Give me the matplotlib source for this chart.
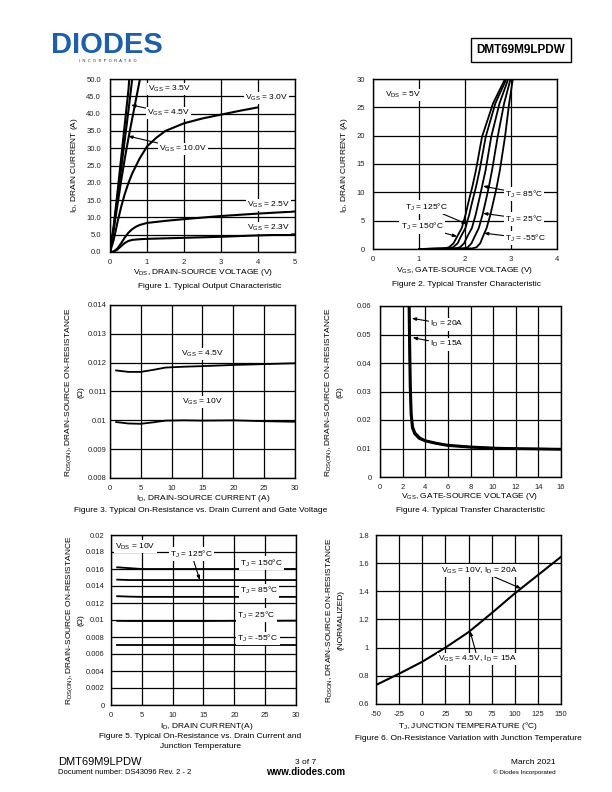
import numpy as np
import matplotlib
matplotlib.use("Agg")
import matplotlib.pyplot as plt

plt.rcParams["font.family"] = ["Liberation Sans", "DejaVu Sans"]
plt.rcParams["mathtext.default"] = "regular"
plt.rcParams["axes.unicode_minus"] = False

# ---- Figure 1 data: output characteristic ----
vds_10 = [0, 0.1, 0.2, 0.3, 0.4, 0.5, 0.52]
id_10 = [0, 7.5, 17, 27, 37, 47, 50]
vds_45 = [0, 0.1, 0.2, 0.3, 0.4, 0.5, 0.6]
id_45 = [0, 7, 15.5, 24, 32.5, 41, 50]
vds_35 = [0, 0.1, 0.2, 0.3, 0.4, 0.5, 0.6, 0.7, 0.81]
id_35 = [0, 6.5, 13.5, 20.5, 27, 33, 38.5, 44, 50]
vds_30 = [0, 0.1, 0.2, 0.3, 0.4, 0.5, 0.6, 0.8, 1.0, 1.25, 1.5, 2.0, 2.5, 3.0, 3.5, 4.0]
id_30 = [0, 3.5, 8.5, 13, 16.8, 20, 22.7, 27, 30.5, 33, 35, 37.2, 38.6, 39.7, 40.8, 41.8]
vds_25 = [0, 0.1, 0.2, 0.3, 0.4, 0.5, 0.6, 0.7, 0.8, 1.0, 1.5, 2.0, 3.0, 4.0, 5.0]
id_25 = [0, 0.1, 1.0, 2.5, 4.2, 5.6, 6.6, 7.3, 7.8, 8.4, 9.0, 9.5, 10.4, 11.1, 11.7]
vds_23 = [0, 0.1, 0.2, 0.3, 0.4, 0.5, 0.6, 0.8, 1.0, 2.0, 3.0, 4.0, 5.0]
id_23 = [0, 0.1, 0.7, 1.7, 2.6, 3.2, 3.5, 3.7, 3.8, 4.1, 4.4, 4.8, 5.1]

# ---- Figure 2 data: transfer characteristic (VDS = 5V) ----
id_levels = [0, 0.1, 0.3, 1, 2.2, 3.7, 6, 8.1, 11, 14, 19.8, 25.7, 30]
vgs_150 = [1.0, 1.55, 1.65, 1.75, 1.83, 1.93, 2.01, 2.07, 2.16, 2.24, 2.37, 2.61, 2.87]
vgs_125 = [1.0, 1.64, 1.74, 1.84, 1.91, 2.01, 2.09, 2.15, 2.24, 2.32, 2.45, 2.66, 2.90]
vgs_85 = [1.0, 1.79, 1.89, 1.98, 2.05, 2.15, 2.23, 2.29, 2.37, 2.45, 2.57, 2.75, 2.94]
vgs_25 = [1.0, 1.96, 2.06, 2.14, 2.21, 2.30, 2.38, 2.44, 2.52, 2.59, 2.71, 2.85, 2.99]
vgs_m55 = [1.0, 2.15, 2.25, 2.33, 2.39, 2.47, 2.55, 2.61, 2.69, 2.76, 2.87, 2.96, 3.04]

# ---- Figure 3 data: RDS(on) vs ID ----
id_f3 = [1, 3, 5, 7, 9, 12, 15, 20, 25, 30]
r_45 = [0.01173, 0.01168, 0.01168, 0.01175, 0.01183, 0.01186, 0.01188, 0.01192, 0.01195, 0.01198]
r_10 = [0.00994, 0.00989, 0.00988, 0.00993, 0.00999, 0.01, 0.00999, 0.01, 0.00997, 0.00995]

# ---- Figure 4 data: RDS(on) vs VGS ----
vgs_20a = [2.6, 2.65, 2.7, 2.78, 2.9, 3.1, 3.5, 4, 5, 6, 8, 10, 12, 14, 16]
r_20a = [0.06, 0.045, 0.032, 0.022, 0.0175, 0.0155, 0.0138, 0.0128, 0.0119, 0.0112, 0.0106, 0.0102, 0.0100, 0.0099, 0.0098]
vgs_15a = [2.55, 2.6, 2.65, 2.73, 2.85, 3.05, 3.45, 4, 5, 6, 8, 10, 12, 14, 16]
r_15a = [0.06, 0.045, 0.032, 0.022, 0.0172, 0.0152, 0.0135, 0.0126, 0.0117, 0.0110, 0.0104, 0.0101, 0.0099, 0.0098, 0.0097]

# ---- Figure 5 data: RDS(on) vs ID and TJ ----
id_f5 = [1, 3, 5, 10, 15, 20, 25, 30]
r_t150 = [0.0162, 0.0161, 0.0160, 0.0160, 0.0160, 0.0160, 0.0160, 0.0160]
r_t125 = [0.01475, 0.0147, 0.0147, 0.0147, 0.0147, 0.0147, 0.0147, 0.0147]
r_t85 = [0.0128, 0.01275, 0.01272, 0.01272, 0.01272, 0.01272, 0.01272, 0.01272]
r_t25 = [0.0099, 0.00988, 0.00988, 0.00988, 0.00988, 0.0099, 0.0099, 0.00992]
r_tm55 = [0.0071, 0.0071, 0.0071, 0.0071, 0.0071, 0.0071, 0.0071, 0.0071]

# ---- Figure 6 data: normalized RDS(on) vs TJ ----
tj = [-50, -25, 0, 25, 50, 75, 100, 125, 150]
r_norm = [0.735, 0.815, 0.9, 1.0, 1.11, 1.245, 1.385, 1.515, 1.645]

W, H = 612, 792
fig = plt.figure(figsize=(6.12, 7.92), dpi=100)


def add_ax(x0, y0, x1, y1):
    return fig.add_axes([x0 / W, 1 - y1 / H, (x1 - x0) / W, (y1 - y0) / H])


def ftext(x, y, s, **kw):
    kw.setdefault("fontsize", 6)
    kw.setdefault("ha", "center")
    kw.setdefault("va", "center")
    fig.text(x / W, 1 - y / H, s, **kw)


def style(ax, xlim, ylim, xt, yt, xl=None, yl=None, ypad=6):
    ax.set_xlim(*xlim)
    ax.set_ylim(*ylim)
    ax.set_xticks(xt)
    ax.set_yticks(yt)
    if xl is not None:
        ax.set_xticklabels(xl)
    if yl is not None:
        ax.set_yticklabels(yl)
    ax.grid(True, color="black", lw=0.9)
    ax.set_axisbelow(True)
    ax.tick_params(length=0, labelsize=5.5, labelcolor="#222222")
    ax.tick_params(axis="x", pad=5)
    ax.tick_params(axis="y", pad=ypad)
    for s in ax.spines.values():
        s.set_linewidth(1.0)


box = dict(boxstyle="square,pad=0.15", fc="white", ec="none")
arr = dict(arrowstyle="-|>,head_length=0.4,head_width=0.15", color="black", lw=0.8, shrinkA=0, shrinkB=0)


def label(ax, s, xy, xytext=None, ha="center"):
    if xytext is None:
        ax.text(xy[0], xy[1], s, fontsize=6, ha=ha, va="center", bbox=box, zorder=5)
    else:
        ax.annotate(s, xy=xy, xytext=xytext, fontsize=6, ha=ha, va="center",
                    bbox=box, arrowprops=arr, zorder=5)


# header
ftext(107, 45, "DIODES", fontsize=21, fontweight="bold", color="#1d5fa8")
ftext(108, 61, "I  N  C  O  R  P  O  R  A  T  E  D", fontsize=3, color="#333333")
ftext(521, 50, "DMT69M9LPDW", fontsize=8.5, fontweight="bold",
      bbox=dict(boxstyle="square,pad=0.5", fc="white", ec="black", lw=1))

# Figure 1
ax1 = add_ax(110, 79, 295, 252)
style(ax1, (0, 5), (0, 50), range(0, 6), np.arange(0, 51, 5),
      yl=["%.1f" % v for v in np.arange(0, 51, 5)], ypad=6.5)
for x, y in [(vds_10, id_10), (vds_45, id_45), (vds_35, id_35), (vds_30, id_30), (vds_25, id_25), (vds_23, id_23)]:
    ax1.plot(x, y, color="black", lw=1.5)
label(ax1, "V$_{GS}$ = 3.5V", (1.03, 47.1), ha="left")
label(ax1, "V$_{GS}$ = 4.5V", (0.57, 42.5), (1.0, 40.2), ha="left")
label(ax1, "V$_{GS}$ = 10.0V", (0.49, 33.5), (1.32, 29.8), ha="left")
label(ax1, "V$_{GS}$ = 3.0V", (3.65, 44.5), ha="left")
label(ax1, "V$_{GS}$ = 2.5V", (3.7, 13.6), ha="left")
label(ax1, "V$_{GS}$ = 2.3V", (3.7, 6.9), ha="left")
ftext(203, 272, "V$_{DS}$, DRAIN-SOURCE VOLTAGE (V)")
ftext(75, 165, "I$_{D}$, DRAIN CURRENT (A)", rotation=90)
ftext(210, 287, "Figure 1. Typical Output Characteristic")

# Figure 2
ax2 = add_ax(373, 79, 557, 249)
style(ax2, (0, 4), (0, 30), range(0, 5), range(0, 31, 5), ypad=6)
for v in [vgs_150, vgs_125, vgs_85, vgs_25, vgs_m55]:
    ax2.plot(v, id_levels, color="black", lw=1.3)
label(ax2, "V$_{DS}$ = 5V", (0.26, 27.2), ha="left")
label(ax2, "T$_{J}$ = 85°C", (2.39, 11.1), (2.87, 9.7), ha="left")
label(ax2, "T$_{J}$ = 125°C", (2.04, 4.4), (0.7, 7.4), ha="left")
label(ax2, "T$_{J}$ = 25°C", (2.39, 6.3), (2.87, 5.3), ha="left")
label(ax2, "T$_{J}$ = 150°C", (1.83, 2.2), (0.6, 3.9), ha="left")
label(ax2, "T$_{J}$ = -55°C", (2.41, 2.8), (2.87, 1.9), ha="left")
ftext(465, 271, "V$_{GS}$, GATE-SOURCE VOLTAGE (V)")
ftext(345, 165, "I$_{D}$, DRAIN CURRENT (A)", rotation=90)
ftext(467, 284, "Figure 2. Typical Transfer Characteristic")

# Figure 3
ax3 = add_ax(110, 305, 295, 478)
style(ax3, (0, 30), (0.008, 0.014), range(0, 31, 5), np.arange(0.008, 0.01401, 0.001),
      yl=["0.008", "0.009", "0.01", "0.011", "0.012", "0.013", "0.014"], ypad=2.5)
ax3.plot(id_f3, r_45, color="black", lw=1.3)
ax3.plot(id_f3, r_10, color="black", lw=1.3)
label(ax3, "V$_{GS}$ = 4.5V", (15, 0.0123))
label(ax3, "V$_{GS}$ = 10V", (15, 0.01064))
ftext(203, 498, "I$_{D}$, DRAIN-SOURCE CURRENT (A)")
ftext(69, 392, "R$_{DS(ON)}$, DRAIN-SOURCE ON-RESISTANCE", rotation=90)
ftext(81, 392, "(Ω)", rotation=90)
ftext(201, 511, "Figure 3. Typical On-Resistance vs. Drain Current and Gate Voltage")

# Figure 4
ax4 = add_ax(380, 306, 561, 477)
style(ax4, (0, 16), (0, 0.06), range(0, 17, 2), np.arange(0, 0.0601, 0.01),
      yl=["0", "0.01", "0.02", "0.03", "0.04", "0.05", "0.06"], ypad=6)
ax4.plot(vgs_20a, r_20a, color="black", lw=1.8)
ax4.plot(vgs_15a, r_15a, color="black", lw=1.8)
label(ax4, "I$_{D}$ = 20A", (2.8, 0.0557), (4.4, 0.0536), ha="left")
label(ax4, "I$_{D}$ = 15A", (2.88, 0.0489), (4.4, 0.0466), ha="left")
ftext(470, 497, "V$_{GS}$, GATE-SOURCE VOLTAGE (V)")
ftext(329, 392, "R$_{DS(ON)}$, DRAIN-SOURCE ON-RESISTANCE", rotation=90)
ftext(340, 392, "(Ω)", rotation=90)
ftext(470, 511, "Figure 4. Typical Transfer Characteristic")

# Figure 5
ax5 = add_ax(111, 535, 296, 705)
style(ax5, (0, 30), (0, 0.02), range(0, 31, 5), np.arange(0, 0.02001, 0.002),
      yl=["0", "0.002", "0.004", "0.006", "0.008", "0.01", "0.012", "0.014", "0.016", "0.018", "0.02"],
      ypad=4.5)
for r in [r_t150, r_t125, r_t85, r_t25, r_tm55]:
    ax5.plot(id_f5, r, color="black", lw=1.3)
label(ax5, "V$_{DS}$ = 10V", (0.7, 0.01862), ha="left")
label(ax5, "T$_{J}$ = 125°C", (14.4, 0.0147), (9.6, 0.01773), ha="left")
label(ax5, "T$_{J}$ = 150°C", (20.9, 0.01667), ha="left")
label(ax5, "T$_{J}$ = 85°C", (20.9, 0.01345), ha="left")
label(ax5, "T$_{J}$ = 25°C", (20.5, 0.01059), ha="left")
label(ax5, "T$_{J}$ = -55°C", (20.5, 0.00784), ha="left")
ftext(207, 726, "I$_{D}$, DRAIN CURRENT(A)")
ftext(70, 620, "R$_{DS(ON)}$, DRAIN-SOURCE ON-RESISTANCE", rotation=90)
ftext(81, 620, "(Ω)", rotation=90)
ftext(200, 737, "Figure 5. Typical On-Resistance vs. Drain Current and")
ftext(200, 746, "Junction Temperature")

# Figure 6
ax6 = add_ax(376, 535, 561, 704)
style(ax6, (-50, 150), (0.6, 1.8), range(-50, 151, 25), np.arange(0.6, 1.801, 0.2),
      yl=["0.6", "0.8", "1", "1.2", "1.4", "1.6", "1.8"], ypad=5)
ax6.plot(tj, r_norm, color="black", lw=1.5)
label(ax6, "V$_{GS}$ = 10V, I$_{D}$ = 20A", (107, 1.42), (62, 1.547))
label(ax6, "V$_{GS}$ = 4.5V, I$_{D}$ = 15A", (51.6, 1.118), (60, 0.92))
ftext(468, 726, "T$_{J}$, JUNCTION TEMPERATURE (°C)")
ftext(330, 620, "R$_{DSON}$, DRAIN-SOURCE ON-RESISTANCE", rotation=90)
ftext(341, 620, "(NORMALIZED)", rotation=90)
ftext(468, 738, "Figure 6. On-Resistance Variation with Junction Temperature")

# footer
ftext(58, 762, "DMT69M9LPDW", fontsize=8, ha="left")
ftext(58, 773, "Document number: DS43096 Rev. 2 - 2", fontsize=5.5, ha="left")
ftext(306, 762, "3 of 7", fontsize=6)
ftext(306, 772, "www.diodes.com", fontsize=7, fontweight="bold")
ftext(556, 762, "March 2021", fontsize=6, ha="right")
ftext(556, 772, "© Diodes Incorporated", fontsize=4.5, ha="right")

fig.savefig("out.png", dpi=100)
